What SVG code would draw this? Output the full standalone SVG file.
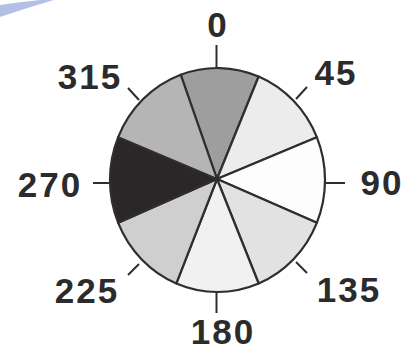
<svg xmlns="http://www.w3.org/2000/svg" width="405" height="350" viewBox="0 0 405 350">
<style>
.lbl{font-family:"Liberation Sans",Arial,sans-serif;font-weight:bold;font-size:35px;fill:#2b2b2b;text-anchor:middle;letter-spacing:2px}
.sec{stroke:#2e2e2e;stroke-width:2.2;stroke-linejoin:round}
.tick{stroke:#2e2e2e;stroke-width:2}
</style>
<rect width="405" height="350" fill="#ffffff"/>
<path d="M0,5 Q20,2 40,0 L54,0 Q26,8 0,17 Z" fill="#b4bfe6"/>
<g id="pie">
<g id="sector-0"><path class="sec" fill="#9e9e9e" d="M217,179 L180.73,74.75 A107.5,112 0 0 1 258.64,76.53 Z"/></g>
<g id="sector-45"><path class="sec" fill="#ececec" d="M217,179 L258.64,76.53 A107.5,112 0 0 1 316.82,137.14 Z"/></g>
<g id="sector-90"><path class="sec" fill="#fdfdfd" d="M217,179 L316.82,137.14 A107.5,112 0 0 1 316.82,222.86 Z"/></g>
<g id="sector-135"><path class="sec" fill="#e2e2e2" d="M217,179 L316.82,222.86 A107.5,112 0 0 1 258.64,283.47 Z"/></g>
<g id="sector-180"><path class="sec" fill="#f1f1f1" d="M217,179 L258.64,283.47 A107.5,112 0 0 1 176.36,283.47 Z"/></g>
<g id="sector-225"><path class="sec" fill="#cfcfcf" d="M217,179 L176.36,283.47 A107.5,112 0 0 1 118.18,222.86 Z"/></g>
<g id="sector-270"><path class="sec" fill="#2b2729" d="M217,179 L118.18,222.86 A107.5,112 0 0 1 118.18,137.14 Z"/></g>
<g id="sector-315"><path class="sec" fill="#b5b5b5" d="M217,179 L118.18,137.14 A107.5,112 0 0 1 180.73,74.75 Z"/></g>
</g>
<g id="ticks">
<line class="tick" x1="216.5" y1="45" x2="216.5" y2="68"/>
<line class="tick" x1="216.5" y1="292" x2="216.5" y2="313"/>
<line class="tick" x1="93" y1="183" x2="110" y2="183"/>
<line class="tick" x1="325" y1="183" x2="345" y2="183"/>
<line class="tick" x1="128" y1="88" x2="139" y2="100"/>
<line class="tick" x1="296" y1="99" x2="307" y2="87"/>
<line class="tick" x1="296" y1="262" x2="307" y2="273"/>
<line class="tick" x1="128" y1="275" x2="139" y2="264"/>
</g>
<g id="labels">
<text class="lbl" x="218" y="37">0</text>
<text class="lbl" x="336" y="85">45</text>
<text class="lbl" x="382" y="195">90</text>
<text class="lbl" x="349" y="302">135</text>
<text class="lbl" x="223" y="344">180</text>
<text class="lbl" x="87" y="303">225</text>
<text class="lbl" x="50" y="197">270</text>
<text class="lbl" x="90" y="89">315</text>
</g>
</svg>
